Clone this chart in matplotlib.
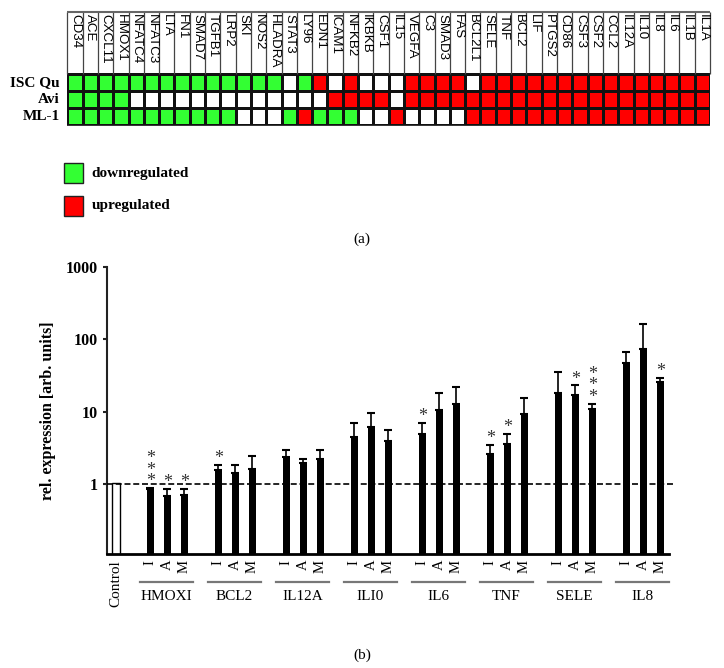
import matplotlib

matplotlib.use("Agg")
import matplotlib.pyplot as plt
import numpy as np
from matplotlib.colors import ListedColormap
from matplotlib.patches import Rectangle
from matplotlib.ticker import NullLocator

plt.rcParams["font.family"] = "Liberation Serif"
plt.rcParams["lines.scale_dashes"] = False

# (a) regulation map: -1 downregulated, 0 unchanged, 1 upregulated
genes = [
    "CD34", "ACE", "CXCL11", "HMOX1", "NFATC4", "NFATC3", "LTA", "FN1",
    "SMAD7", "TGFB1", "LRP2", "SKI", "NOS2", "HLADRA", "STAT3", "LY96",
    "EDN1", "ICAM1", "NFKB2", "IKBKB", "CSF1", "IL15", "VEGFA", "C3",
    "SMAD3", "FAS", "BCL2L1", "SELE", "TNF", "BCL2", "LIF", "PTGS2",
    "CD86", "CSF3", "CSF2", "CCL2", "IL12A", "IL10", "IL8", "IL6",
    "IL1B", "IL1A",
]
row_names = ["ISC Qu", "Avi", "ML-1"]
isc_qu_reg = [-1, -1, -1, -1, -1, -1, -1, -1, -1, -1, -1, -1, -1, -1, 0, -1,
              1, 0, 1, 0, 0, 0, 1, 1, 1, 1, 0, 1, 1, 1, 1, 1,
              1, 1, 1, 1, 1, 1, 1, 1, 1, 1]
avi_reg = [-1, -1, -1, -1, 0, 0, 0, 0, 0, 0, 0, 0, 0, 0, 0, 0,
           0, 1, 1, 1, 1, 0, 1, 1, 1, 1, 1, 1, 1, 1, 1, 1,
           1, 1, 1, 1, 1, 1, 1, 1, 1, 1]
ml1_reg = [-1, -1, -1, -1, -1, -1, -1, -1, -1, -1, -1, 0, 0, 0, -1, 1,
           -1, -1, -1, 0, 0, 1, 0, 0, 0, 0, 1, 1, 1, 1, 1, 1,
           1, 1, 1, 1, 1, 1, 1, 1, 1, 1]

# (b) relative expression, mean and upper error per treatment
groups = ["HMOXI", "BCL2", "IL12A", "ILI0", "IL6", "TNF", "SELE", "IL8"]
treatments = ["I", "A", "M"]
control_mean = 1.02
isc_mean = [0.85, 1.55, 2.32, 4.4, 4.93, 2.6, 17.9, 47.0]
isc_err = [0.02, 0.25, 0.60, 2.45, 2.07, 0.85, 17.0, 19.0]
avi_mean = [0.68, 1.42, 1.92, 6.1, 10.6, 3.53, 17.1, 73.0]
avi_err = [0.17, 0.38, 0.30, 3.4, 7.3, 1.42, 5.9, 89.0]
ml1_mean = [0.70, 1.62, 2.18, 3.96, 12.9, 9.3, 10.9, 25.7]
ml1_err = [0.15, 0.80, 0.77, 1.64, 9.3, 6.3, 1.8, 3.3]
isc_stars = [3, 1, 0, 0, 1, 1, 0, 0]
avi_stars = [1, 0, 0, 0, 0, 1, 1, 0]
ml1_stars = [1, 0, 0, 0, 0, 0, 3, 1]

GREEN = "#33ff33"
RED = "#ff0000"
SANS = "Liberation Sans"

fig = plt.figure(figsize=(7.24, 6.68), dpi=100)

# ---- panel (a)
hm = fig.add_axes([0.093, 0.8129, 0.8877, 0.1687])
grid = np.array([isc_qu_reg, avi_reg, ml1_reg])
n_rows, n_cols = grid.shape
label_h = 3.63
hm.pcolormesh(
    np.arange(n_cols + 1), np.arange(n_rows + 1), grid,
    cmap=ListedColormap([GREEN, "white", RED]), vmin=-1.5, vmax=1.5,
    edgecolors="#111111", linewidth=0.9,
)
hm.set_xlim(0, n_cols)
hm.set_ylim(n_rows, -label_h)
hm.axis("off")
hm.vlines(np.arange(n_cols + 1), -label_h, 0, color="#444444", lw=0.9, clip_on=False)
hm.hlines(-label_h, 0, n_cols, color="#666666", lw=1.5, clip_on=False)
hm.hlines(n_rows, 0, n_cols, color="#111111", lw=1.2, clip_on=False)
for i, gene in enumerate(genes):
    hm.text(i + 0.5, -label_h + 0.12, gene, rotation=-90, ha="center",
            va="top", fontsize=9.6, family=SANS)
for r, name in enumerate(row_names):
    hm.text(-0.5, r + 0.5, name, ha="right", va="center", fontsize=11,
            fontweight="bold")

for y0, color, label in ((0.7256, GREEN, "downregulated"), (0.6766, RED, "upregulated")):
    fig.add_artist(Rectangle((0.0888, y0), 0.0254, 0.0305, transform=fig.transFigure,
                             facecolor=color, edgecolor="#222222", lw=1.0))
    fig.text(0.1267, y0 + 0.0152, label, ha="left", va="center", fontsize=11,
             fontweight="bold")
fig.text(0.5, 0.642, "(a)", ha="center", va="center", fontsize=11)

# ---- panel (b)
ax = fig.add_axes([0.1482, 0.1702, 0.7828, 0.4301])
bar_w = 0.43
ax.bar(0, control_mean, width=bar_w, bottom=0.01, color="white",
       edgecolor="black", lw=1.0, zorder=2)
series = (
    (isc_mean, isc_err, isc_stars),
    (avi_mean, avi_err, avi_stars),
    (ml1_mean, ml1_err, ml1_stars),
)
group_x = 2 + 4 * np.arange(len(groups))
for t, (means, errs, stars) in enumerate(series):
    xs = group_x + t
    means = np.asarray(means)
    errs = np.asarray(errs)
    ax.bar(xs, means - 0.01, width=bar_w, bottom=0.01, color="black", zorder=2)
    ax.errorbar(xs, means, yerr=[np.zeros_like(errs), errs], fmt="none",
                ecolor="black", elinewidth=1.2, capsize=2.6, capthick=1.5, zorder=2)
    for x, top, n in zip(xs, means + errs, stars):
        if n:
            # stacked asterisks as one multi-line text
            ax.annotate("\n".join(["*"] * n), (x, top), xytext=(0, -1.5),
                        textcoords="offset points", ha="center", va="bottom",
                        fontsize=13, linespacing=0.6, color="#333333")

ax.axhline(1, color="black", lw=1.2, dashes=(4.3, 2.0), zorder=3)
ax.set_yscale("log")
ax.set_ylim(0.106, 1000)
ax.set_xlim(-0.52, 32.8)
ax.spines[["top", "right"]].set_visible(False)
ax.spines["left"].set_linewidth(1.5)
ax.spines["left"].set_color("#222222")
ax.spines["bottom"].set_linewidth(2.0)
ax.spines["bottom"].set_bounds(-0.52, 32.48)
ax.yaxis.set_minor_locator(NullLocator())
ax.set_yticks([1, 10, 100, 1000])
ax.set_yticklabels(["1", "10", "100", "1000"], fontweight="bold", fontsize=11.5)
ax.tick_params(axis="y", length=3, width=1.5, color="#222222", pad=4)
ax.set_ylabel("rel. expression [arb. units]", fontweight="bold", fontsize=11.5)
ax.yaxis.set_label_coords(-0.09, 0.5)

tick_x = [0] + [gx + t for gx in group_x for t in range(len(treatments))]
tick_labels = ["Control"] + treatments * len(groups)
ax.set_xticks(tick_x)
ax.set_xticklabels(tick_labels, rotation=90, fontsize=10.5)
ax.get_xticklabels()[0].set_fontsize(11)
ax.tick_params(axis="x", length=0, pad=4)

xt = ax.get_xaxis_transform()
for gx, name in zip(group_x, groups):
    x0, x1 = gx - 0.6, gx + 2.5
    ax.plot([x0, x1], [-0.0954, -0.0954], transform=xt, clip_on=False,
            color="#777777", lw=1.6)
    ax.text((x0 + x1) / 2, -0.1476, name, transform=xt, ha="center",
            va="center", fontsize=11)
fig.text(0.5, 0.0195, "(b)", ha="center", va="center", fontsize=11)

fig.savefig("out.png", dpi=100)
